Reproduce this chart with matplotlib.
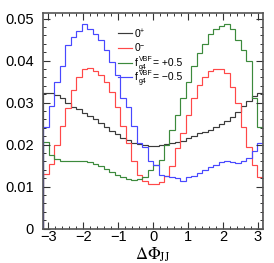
import numpy as np
import matplotlib
matplotlib.use("Agg")
import matplotlib.pyplot as plt
from matplotlib.ticker import MultipleLocator

plt.rcParams['font.family'] = ['Liberation Sans', 'DejaVu Sans']

# 40 bins over [-pi, pi]
n_bins = 40
xlim = (-np.pi, np.pi)

h_0plus = [0.0323, 0.0322, 0.0317, 0.0311, 0.0300, 0.0290, 0.0285, 0.0275, 0.0268, 0.0260,
           0.0251, 0.0243, 0.0233, 0.0225, 0.0216, 0.0210, 0.0205, 0.0202, 0.0198, 0.0196,
           0.0196, 0.0199, 0.0201, 0.0203, 0.0206, 0.0209, 0.0215, 0.0221, 0.0227, 0.0231,
           0.0236, 0.0242, 0.0249, 0.0256, 0.0266, 0.0278, 0.0292, 0.0305, 0.0315, 0.0323]

h_0minus = [0.0130, 0.0153, 0.0198, 0.0244, 0.0288, 0.0330, 0.0361, 0.0379, 0.0383, 0.0375,
            0.0365, 0.0350, 0.0325, 0.0290, 0.0245, 0.0203, 0.0162, 0.0128, 0.0113, 0.0107,
            0.0107, 0.0112, 0.0125, 0.0150, 0.0191, 0.0227, 0.0270, 0.0310, 0.0341, 0.0362,
            0.0375, 0.0380, 0.0381, 0.0371, 0.0336, 0.0300, 0.0242, 0.0195, 0.0151, 0.0124]

h_fp05 = [0.0207, 0.0175, 0.0167, 0.0162, 0.0160, 0.0160, 0.0161, 0.0160, 0.0158, 0.0155,
          0.0150, 0.0143, 0.0135, 0.0128, 0.0122, 0.0119, 0.0117, 0.0118, 0.0124, 0.0140,
          0.0151, 0.0163, 0.0199, 0.0235, 0.0270, 0.0310, 0.0349, 0.0387, 0.0418, 0.0440,
          0.0463, 0.0474, 0.0482, 0.0488, 0.0474, 0.0450, 0.0425, 0.0400, 0.0310, 0.0242]

h_fm05 = [0.0243, 0.0292, 0.0349, 0.0387, 0.0437, 0.0456, 0.0470, 0.0487, 0.0474, 0.0463,
          0.0448, 0.0425, 0.0397, 0.0365, 0.0312, 0.0290, 0.0244, 0.0205, 0.0195, 0.0160,
          0.0152, 0.0128, 0.0125, 0.0122, 0.0120, 0.0113, 0.0122, 0.0126, 0.0133, 0.0140,
          0.0146, 0.0152, 0.0158, 0.0160, 0.0158, 0.0157, 0.0160, 0.0168, 0.0185, 0.0203]

# legend label pieces: (main, superscript, subscript, trailing text)
legend_parts = [('0', '+', '', ''),
                ('0', '\u2212', '', ''),
                ('f', 'VBF', 'g4', '= +0.5'),
                ('f', 'VBF', 'g4', '= \u22120.5')]
colors = ['#3a3a3a', '#ff4848', '#3c8a3c', '#4848ff']
x_ticks = [-3, -2, -1, 0, 1, 2, 3]
y_ticks = [0, 0.01, 0.02, 0.03, 0.04, 0.05]
y_ticklabels = ['0', '0.01', '0.02', '0.03', '0.04', '0.05']

fig = plt.figure(figsize=(2.74, 2.63), dpi=100)
ax = fig.add_axes([0.158, 0.1304, 0.801, 0.8183])

edges = np.linspace(xlim[0], xlim[1], n_bins + 1)
for vals, c in zip([h_0plus, h_0minus, h_fp05, h_fm05], colors):
    ax.stairs(vals, edges, color=c, linewidth=0.85)

ax.set_xlim(*xlim)
ax.set_ylim(0, 0.0512)
ax.set_xticks(x_ticks)
ax.set_xticklabels([str(t).replace('-', '\u2212') for t in x_ticks])
ax.set_yticks(y_ticks)
ax.set_yticklabels(y_ticklabels)
ax.xaxis.set_minor_locator(MultipleLocator(0.2))
ax.yaxis.set_minor_locator(MultipleLocator(0.002))
ax.tick_params(which='both', direction='in', top=True, right=True, color='#333333')
ax.tick_params(which='major', length=5, width=0.8, labelsize=10.5)
ax.tick_params(which='minor', length=2.5, width=0.7)
ax.tick_params(axis='x', which='major', pad=1.2)
ax.tick_params(axis='y', which='major', pad=7)
for s in ax.spines.values():
    s.set_color('#555555')
    s.set_linewidth(1.2)

ax.set_xlabel(r'$\Delta\Phi_{\mathrm{JJ}}$', fontsize=12, math_fontfamily='stix')
ax.xaxis.set_label_coords(0.5, -0.079)

# legend (ROOT-style: short line then label)
leg_x0, leg_x1, leg_xt = 0.340, 0.404, 0.418
leg_y = [0.909, 0.840, 0.770, 0.705]
for c, (main, sup, sub, tail), yy in zip(colors, legend_parts, leg_y):
    ax.plot([leg_x0, leg_x1], [yy, yy], transform=ax.transAxes, color=c, linewidth=0.85)
    kw = dict(xy=(leg_xt, yy), xycoords='axes fraction', textcoords='offset pixels',
              va='baseline', ha='left')
    ax.annotate(main, xytext=(0, -3.5), fontsize=7.5, **kw)
    if sub:
        ax.annotate(sup, xytext=(3.5, 2.2), fontsize=5, **kw)
        ax.annotate(sub, xytext=(3.5, -6.3), fontsize=5, **kw)
        ax.annotate(tail, xytext=(18, -3.5), fontsize=7.5, **kw)
    else:
        ax.annotate(sup, xytext=(4.3, 0.3), fontsize=5, **kw)

fig.savefig('out.png', dpi=100)
